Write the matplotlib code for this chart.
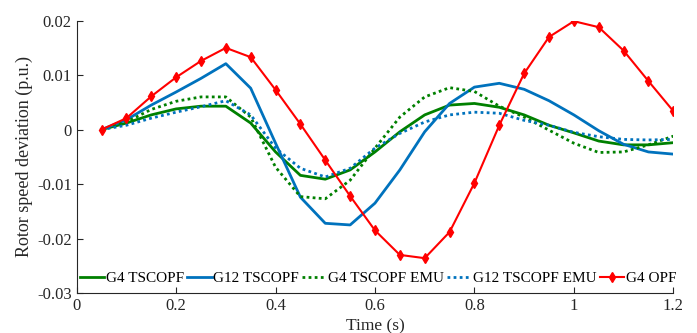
import numpy as np
import matplotlib
matplotlib.use('Agg')
import matplotlib.pyplot as plt

plt.rcParams['font.family'] = ['Liberation Serif', 'DejaVu Serif']
plt.rcParams['font.size'] = 12

t = [0.05, 0.1, 0.15, 0.2, 0.25, 0.3, 0.35, 0.4, 0.45, 0.5, 0.55, 0.6,
     0.65, 0.7, 0.75, 0.8, 0.85, 0.9, 0.95, 1.0, 1.05, 1.1, 1.15, 1.2]

g4_tscopf = [0, 0.0012, 0.0027, 0.0038, 0.0043, 0.0043, 0.0012, -0.0041, -0.0084, -0.0091,
             -0.0074, -0.0041, -0.0004, 0.0027, 0.0045, 0.0048, 0.0041, 0.0027, 0.0008, -0.0006,
             -0.0021, -0.0028, -0.0028, -0.0024]
g12_tscopf = [0, 0.0018, 0.0045, 0.0069, 0.0094, 0.0121, 0.0076, -0.0025, -0.0124, -0.0172,
              -0.0175, -0.0135, -0.0074, -0.0004, 0.0048, 0.0078, 0.0085, 0.0074, 0.0053, 0.0027,
              -0.0002, -0.0027, -0.0041, -0.0045]
g4_emu = [0, 0.0014, 0.0037, 0.0052, 0.006, 0.006, 0.0023, -0.0069, -0.0123, -0.0127,
          -0.0093, -0.0034, 0.0023, 0.006, 0.0077, 0.007, 0.0043, 0.0023, -0.0001, -0.0025,
          -0.0042, -0.0041, -0.0028, -0.0012]
g12_emu = [0, 0.0008, 0.0021, 0.0032, 0.0042, 0.0053, 0.0027, -0.0034, -0.0071, -0.0087,
           -0.0071, -0.0034, -0.0007, 0.0014, 0.0027, 0.0032, 0.003, 0.0017, 0.0008, -0.0005,
           -0.0013, -0.0018, -0.0019, -0.0018]
g4_opf = [0, 0.0021, 0.0061, 0.0096, 0.0126, 0.015, 0.0133, 0.0073, 0.001, -0.0056,
          -0.0122, -0.0185, -0.023, -0.0236, -0.0188, -0.0098, 0.0008, 0.0103, 0.017, 0.0199,
          0.0188, 0.0145, 0.0089, 0.0034]

green = '#008000'
blue = '#0072BD'
red = '#FF0000'

fig = plt.figure(figsize=(6.97, 3.33), dpi=100)
ax = fig.add_axes([0.11, 0.12, 0.856, 0.818])

ax.plot(t, g4_tscopf, color=green, lw=2.0, label='G4 TSCOPF')
ax.plot(t, g12_tscopf, color=blue, lw=2.0, label='G12 TSCOPF')
ax.plot(t, g4_emu, color=green, lw=2.0, ls=(0, (1, 1.2)), label='G4 TSCOPF EMU')
ax.plot(t, g12_emu, color=blue, lw=2.0, ls=(0, (1, 1.2)), label='G12 TSCOPF EMU')
ax.plot(t, g4_opf, color=red, lw=1.5, marker='d', ms=5.5, label='G4 OPF')

ax.set_xlim(0, 1.2)
ax.set_ylim(-0.03, 0.02)
ax.set_xticks([0, 0.2, 0.4, 0.6, 0.8, 1.0, 1.2])
ax.set_xticklabels(['0', '0.2', '0.4', '0.6', '0.8', '1', '1.2'])
ax.set_yticks([-0.03, -0.02, -0.01, 0, 0.01, 0.02])
ax.set_yticklabels(['-0.03', '-0.02', '-0.01', '0', '0.01', '0.02'])
ax.tick_params(direction='in', length=4, color='#262626', labelcolor='#262626')
ax.spines['top'].set_visible(False)
ax.spines['right'].set_visible(False)
for s in ['left', 'bottom']:
    ax.spines[s].set_color('#262626')

ax.set_xlabel('Time (s)', color='#262626', labelpad=3, fontsize=12.5)
ax.set_ylabel('Rotor speed deviation (p.u.)', color='#262626', labelpad=3, fontsize=13)

ax.legend(loc='lower center', ncol=5, frameon=False, fontsize=11, handlelength=1.6,
          handletextpad=0.1, columnspacing=0.2, borderaxespad=0.1,
          bbox_to_anchor=(0.505, 0.0))

fig.savefig('out.png', dpi=100)
